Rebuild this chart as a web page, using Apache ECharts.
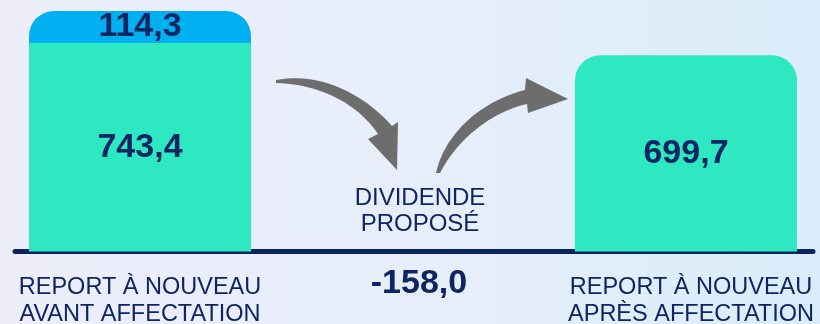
<!DOCTYPE html>
<html>
<head>
<meta charset="utf-8">
<script src="https://cdn.jsdelivr.net/npm/echarts@6/dist/echarts.min.js"></script>
<style>
  html, body { margin: 0; padding: 0; }
  #chart { width: 820px; height: 324px; }
</style>
</head>
<body>
<div id="chart"></div>
<script>
// Report à nouveau : avant / après affectation du résultat (M€)
const categories = [
  'REPORT À NOUVEAU\nAVANT AFFECTATION',
  'DIVIDENDE PROPOSÉ',
  'REPORT À NOUVEAU\nAPRÈS AFFECTATION'
];
const reportValues = [743.4, null, 699.7];   // report à nouveau
const resultValues = [114.3, null, null];    // résultat de l'exercice
const dividendValue = -158.0;                // dividende proposé
const dividendTitle = 'DIVIDENDE\nPROPOSÉ';

const NAVY = '#0D2563';
const GREEN = '#2EE8C2';
const BLUE = '#00B0F0';
const ARROW = '#6D6D6D';
const FONT = '"Liberation Sans", Arial, Helvetica, sans-serif';

const fmt = v => v.toFixed(1).replace('.', ',');

const totalBefore = reportValues[0] + resultValues[0];

// sample a cubic Bézier segment into polygon points
function bezier(p0, p1, p2, p3, n) {
  const pts = [];
  for (let i = 0; i <= n; i++) {
    const t = i / n, u = 1 - t;
    pts.push([
      u * u * u * p0[0] + 3 * u * u * t * p1[0] + 3 * u * t * t * p2[0] + t * t * t * p3[0],
      u * u * u * p0[1] + 3 * u * u * t * p1[1] + 3 * u * t * t * p2[1] + t * t * t * p3[1]
    ]);
  }
  return pts;
}

// curved, tapered arrow: outer edge, arrow head, inner edge back to the tail
function arrowPoints(outer, head, inner) {
  return bezier(...outer, 24).concat(head, bezier(...inner, 24));
}

const arrowDown = arrowPoints(
  [[276, 80], [318, 72], [362, 92], [392, 126]],
  [[398, 122], [397, 170], [368, 139]],
  [[378, 134], [358, 104], [320, 84], [276, 83]]
);
const arrowUp = arrowPoints(
  [[436, 173], [444, 136], [478, 102], [525, 90]],
  [[526, 78], [568, 99], [528, 113]],
  [[527, 104], [492, 112], [458, 138], [440, 173]]
);

const chart = echarts.init(document.getElementById('chart'), null, { renderer: 'canvas' });

const valueLabel = {
  show: true,
  position: 'inside',
  color: NAVY,
  fontFamily: FONT,
  fontWeight: 'bold',
  fontSize: 34,
  formatter: p => fmt(p.value)
};

chart.setOption({
  backgroundColor: {
    type: 'linear', x: 0, y: 0, x2: 1, y2: 0,
    colorStops: [
      { offset: 0, color: '#EDEEFA' },
      { offset: 0.55, color: '#E6EEFA' },
      { offset: 1, color: '#DAEDFA' }
    ]
  },
  animation: false,
  grid: [
    { left: 3.5, right: -2.5, top: 11, bottom: 72.5, outerBoundsMode: 'none' },
    { left: 15, right: 7, top: 11, bottom: 72.5, outerBoundsMode: 'none' }
  ],
  xAxis: [
    {
      type: 'category',
      gridIndex: 0,
      data: categories,
      axisLine: { show: false },
      axisTick: { show: false },
      axisLabel: {
        interval: 0,
        margin: 23,
        formatter: (value, idx) => {
          if (idx === 1) return '{mid|' + fmt(dividendValue) + '}';
          const style = idx === 2 ? 'sideR' : 'side';
          return value.split('\n').map(s => '{' + style + '|' + s + '}').join('\n');
        },
        rich: {
          side: { fontFamily: FONT, fontSize: 23.5, lineHeight: 27, color: NAVY },
          sideR: {
            fontFamily: FONT, fontSize: 23.5, lineHeight: 27, color: NAVY,
            padding: [0, 0, 0, 10]
          },
          mid: {
            fontFamily: FONT, fontSize: 34, fontWeight: 'bold', lineHeight: 19,
            color: NAVY, padding: [0, 0, 0, 12]
          }
        }
      }
    },
    {
      type: 'category',
      gridIndex: 1,
      data: categories,
      axisLine: { show: true, onZero: false, lineStyle: { color: '#0A2460', width: 5 } },
      axisTick: { show: false },
      axisLabel: { show: false }
    }
  ],
  yAxis: [
    { type: 'value', gridIndex: 0, min: 0, max: totalBefore, show: false },
    { type: 'value', gridIndex: 1, min: 0, max: totalBefore, show: false }
  ],
  series: [
    {
      name: 'Report à nouveau',
      type: 'bar',
      stack: 'total',
      barWidth: 222,
      data: reportValues.map((v, i) => v == null ? '-' : {
        value: v,
        itemStyle: { borderRadius: resultValues[i] == null ? [25, 25, 0, 0] : 0 }
      }),
      itemStyle: { color: GREEN },
      label: valueLabel
    },
    {
      name: 'Résultat',
      type: 'bar',
      stack: 'total',
      barWidth: 222,
      data: resultValues.map(v => v == null ? '-' : v),
      itemStyle: { color: BLUE, borderRadius: [25, 25, 0, 0] },
      label: valueLabel
    }
  ],
  graphic: [
    {
      type: 'text',
      silent: true,
      style: {
        text: dividendTitle,
        x: 420, y: 185.5,
        align: 'center',
        verticalAlign: 'top',
        fontFamily: FONT,
        fontSize: 24,
        lineHeight: 26,
        fill: NAVY
      }
    },
    {
      type: 'polygon',
      silent: true,
      shape: { points: arrowDown },
      style: { fill: ARROW }
    },
    {
      type: 'polygon',
      silent: true,
      shape: { points: arrowUp },
      style: { fill: ARROW }
    }
  ]
});
</script>
</body>
</html>
